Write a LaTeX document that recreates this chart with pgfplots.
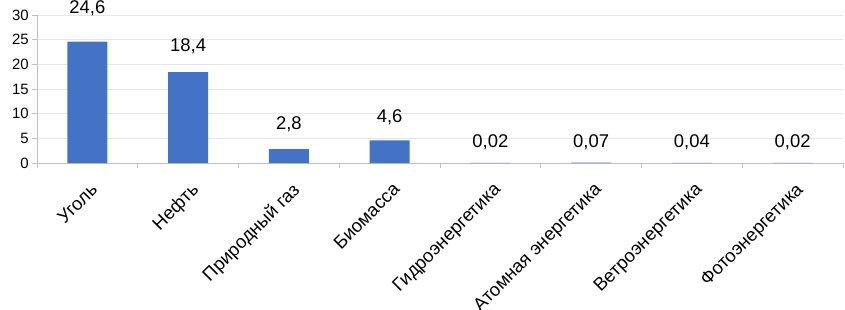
\documentclass[border=0pt]{standalone}
\usepackage{pgfplots}
\pgfplotsset{compat=1.18}
\usepackage{fontspec}
\setmainfont{Liberation Sans}
\definecolor{barblue}{HTML}{4472C4}
\definecolor{axgray}{HTML}{BFBFBF}
\definecolor{gridgray}{HTML}{E6E6E6}
\begin{document}
\begin{tikzpicture}
\begin{axis}[
  at={(0,0)}, anchor=south west,
  scale only axis, width=806bp, height=148bp,
  xmin=-0.5, xmax=7.5, ymin=0, ymax=30,
  axis x line*=bottom, axis y line*=left,
  axis line style={draw=axgray, line width=0.8bp, -},
  ytick={0,5,...,30},
  ymajorgrids, grid style={draw=gridgray, line width=0.8bp},
  tick align=outside,
  major tick length=5bp,
  ytick style={draw=axgray, line width=0.8bp},
  y tick label style={font=\fontsize{15}{17}\selectfont, inner sep=0pt, xshift=-3bp},
  /pgf/number format/assume math mode=true,
  xtick={0,...,7},
  xtick style={draw=none},
  xticklabels={Уголь,Нефть,Природный газ,Биомасса,Гидроэнергетика,Атомная энергетика,Ветроэнергетика,Фотоэнергетика},
  x tick label style={rotate=45, anchor=north east, font=\fontsize{18.5}{20}\selectfont, inner sep=0pt, yshift=-11bp, xshift=-8bp},
  extra x ticks={-0.5,0.5,1.5,2.5,3.5,4.5,5.5,6.5,7.5},
  extra x tick labels={},
  extra x tick style={xtick style={draw=axgray, line width=0.8bp}, grid=none},
  clip=false,
]
\addplot[ybar, bar width=40bp, fill=barblue, draw=none,
  nodes near coords, point meta=explicit symbolic,
  every node near coord/.append style={font=\fontsize{18.5}{20}\selectfont, anchor=base, inner sep=0pt, yshift=15bp, text=black}]
coordinates {
 (0,24.6) [\raisebox{13bp}{24,6}]
 (1,18.4) [\raisebox{5.5bp}{18,4}]
 (2,2.8) [\raisebox{5bp}{2,8}]
 (3,4.6) [\raisebox{2.6bp}{4,6}]
 (4,0.02) [0,02]
 (5,0.07) [0,07]
 (6,0.04) [0,04]
 (7,0.02) [0,02]
};
\end{axis}
\pgfresetboundingbox
\path (-37bp,-147bp) rectangle (808bp,163bp);
\end{tikzpicture}
\end{document}
